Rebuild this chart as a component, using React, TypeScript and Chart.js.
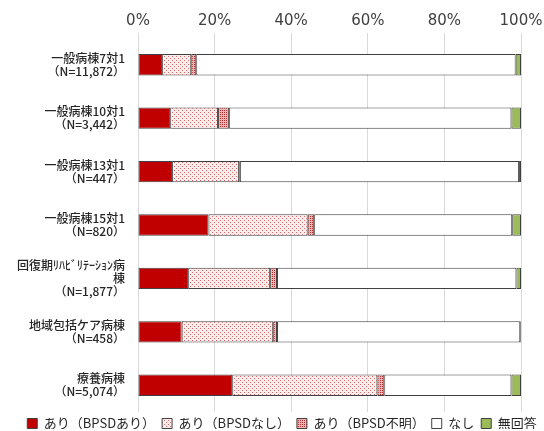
import React, { useEffect, useRef } from 'react';
import { Chart, registerables } from 'chart.js';
Chart.register(...registerables);

const categories: string[][] = [
  ['一般病棟7対1', '（N=11,872）'],
  ['一般病棟10対1', '（N=3,442）'],
  ['一般病棟13対1', '（N=447）'],
  ['一般病棟15対1', '（N=820）'],
  ['回復期ﾘﾊﾋﾞﾘﾃｰｼｮﾝ病', '棟', '（N=1,877）'],
  ['地域包括ケア病棟', '（N=458）'],
  ['療養病棟', '（N=5,074）'],
];
const seriesNames = ['あり（BPSDあり）', 'あり（BPSDなし）', 'あり（BPSD不明）', 'なし', '無回答'];
const bpsdAri = [6.3, 8.4, 8.9, 18.4, 13.1, 11.4, 24.6];
const bpsdNashi = [7.6, 12.5, 17.5, 25.9, 21.4, 23.9, 37.9];
const bpsdFumei = [1.3, 2.9, 0.2, 1.7, 1.8, 1.0, 1.8];
const nashi = [83.4, 73.7, 72.9, 51.7, 62.5, 63.5, 33.2];
const muKaito = [1.4, 2.5, 0.5, 2.3, 1.2, 0.2, 2.5];
const xTicks = [0, 20, 40, 60, 80, 100];

function makePattern(bg: string, dot: string, size: number): CanvasPattern | string {
  const c = document.createElement('canvas');
  c.width = size;
  c.height = size;
  const ctx = c.getContext('2d');
  if (!ctx) return bg;
  ctx.fillStyle = bg;
  ctx.fillRect(0, 0, size, size);
  ctx.fillStyle = dot;
  ctx.fillRect(0, 0, 1, 1);
  if (size >= 4) ctx.fillRect(size / 2, size / 2, 1, 1);
  const p = ctx.createPattern(c, 'repeat');
  return p || bg;
}

const legendTweak = {
  id: 'legendTweak',
  beforeLayout(chart: any) {
    const lg = chart.legend;
    if (lg && !lg._patched) {
      const f = lg.fit;
      lg.fit = function () {
        this.maxWidth = 600;
        f.call(this);
        this.height = 19;
      };
      lg._patched = true;
    }
  },
  afterLayout(chart: any) {
    const lg = chart.legend;
    if (lg) {
      lg.top -= 2;
      lg.bottom -= 2;
      lg.left = 18;
      lg.right = 546;
      lg.width = 528;
    }
  },
};

export default function App() {
  const ref = useRef<HTMLCanvasElement>(null);
  useEffect(() => {
    if (!ref.current) return;
    const pinkLight = makePattern('#fdeeee', '#e06666', 4);
    const pinkDense = makePattern('#f0b4b4', '#b03030', 2);
    const values = [bpsdAri, bpsdNashi, bpsdFumei, nashi, muKaito];
    const fills: any[] = ['#c00000', pinkLight, pinkDense, '#ffffff', '#9bbb59'];
    const chart = new Chart(ref.current, {
      type: 'bar',
      data: {
        labels: categories,
        datasets: values.map((v, i) => ({
          label: seriesNames[i],
          data: v,
          backgroundColor: fills[i],
          borderColor: '#404040',
          borderWidth: 1,
          borderSkipped: false,
          barPercentage: 0.4,
          categoryPercentage: 1,
        })),
      },
      plugins: [legendTweak],
      options: {
        indexAxis: 'y',
        animation: false,
        responsive: false,
        layout: { padding: { left: 0, right: 23, top: 0, bottom: 0 } },
        scales: {
          x: {
            position: 'top',
            stacked: true,
            min: 0,
            max: 100,
            afterBuildTicks: (s: any) => {
              s.ticks = xTicks.map((v) => ({ value: v }));
            },
            afterFit: (s: any) => {
              s.height = 38;
              s.paddingLeft = 0;
              s.paddingRight = 0;
            },
            grid: { color: '#d9d9d9', lineWidth: 1, tickLength: 5 },
            border: { display: false },
            ticks: {
              callback: (v: any) => v + '%',
              font: { family: 'DejaVu Sans', size: 15 },
              color: '#404040',
              padding: 3,
              maxRotation: 0,
            },
          },
          y: {
            stacked: true,
            afterFit: (s: any) => {
              s.width = 138;
            },
            grid: { display: false },
            border: { display: false },
            ticks: {
              font: { family: 'Noto Sans CJK JP', size: 12, weight: 500, lineHeight: 1.1 },
              color: '#262626',
              padding: 5,
            },
          },
        },
        plugins: {
          legend: {
            position: 'bottom',
            labels: {
              boxWidth: 10,
              boxHeight: 10,
              padding: 7,
              font: { family: 'Noto Sans CJK JP', size: 13 },
              color: '#262626',
            },
          },
          tooltip: { enabled: false },
        },
      },
    });
    return () => chart.destroy();
  }, []);
  return (
    <div style={{ position: 'fixed', left: 0, top: 0, width: 544, height: 431, background: '#fff' }}>
      <canvas ref={ref} width={544} height={431} />
    </div>
  );
}
